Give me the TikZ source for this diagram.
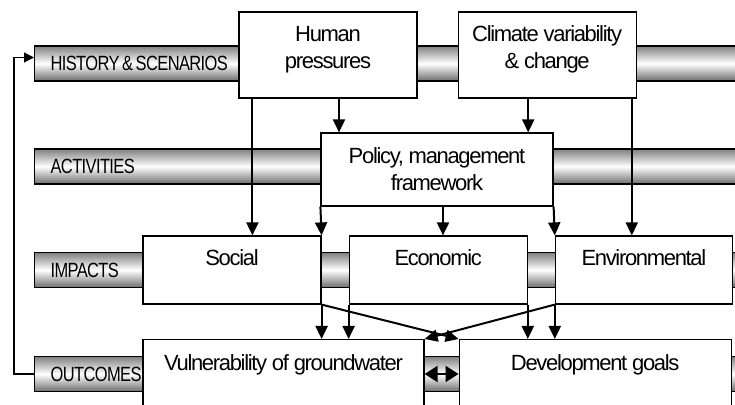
\documentclass[tikz,border=0pt]{standalone}
\usepackage{fontspec}
\setmainfont{Liberation Sans}
\newfontfamily\barfont[FakeStretch=0.8,LetterSpace=-3]{Liberation Sans}
\newfontfamily\boxfont[LetterSpace=-6]{Liberation Sans}
\DeclareRobustCommand\barlabelfont{\barfont\fontsize{10.3pt}{12pt}\selectfont\spaceskip=1.3pt\relax}
\usetikzlibrary{arrows.meta}
\usetikzlibrary{positioning}

\begin{document}
\begin{tikzpicture}[x=0.5pt,y=-0.5pt,
	bar/.style={draw,line width=0.6pt,top color=gray,bottom color=gray!85!black,middle color=white,
		minimum height=17.5pt,text width=340pt,inner xsep=8pt,inner ysep=0pt,align=flush left,anchor=west,
		font=\barlabelfont},
	box/.style={draw,line width=0.6pt,fill=white,align=center,inner sep=3pt,
		font=\boxfont\fontsize{11pt}{13.5pt}\selectfont},
	topbox/.style={box,minimum width=89pt,minimum height=43pt,text height=22pt,text depth=8pt},
	impbox/.style={box,minimum width=89pt,minimum height=34pt,text height=8pt,text depth=12pt},
	outbox/.style={box,anchor=north,inner ysep=4pt,text height=11.5pt,text depth=40pt},
	arr/.style={line width=1pt,-{Triangle[length=6.5pt,width=6pt]}},
	dblarr/.style={line width=1pt,{Triangle[length=6.5pt,width=8pt]}-{Triangle[length=6.5pt,width=8pt]}},
	fb/.style={line width=0.6pt,-{Triangle[length=5pt,width=5pt]}}]

	\clip (0,0) rectangle (735,405);

	% the four rows
	\node[bar] (hist) at (34,63.5) {HISTORY \& SCENARIOS};
	\node[bar] (act) at (34,166.5) {ACTIVITIES};
	\node[bar] (imp) at (34,270) {IMPACTS};
	\node[bar] (out) at (34,374) {OUTCOMES};

	% boxes
	\node[topbox] (human) at (328,55) {Human\\pressures};
	\node[topbox, right=20pt of human] (climate) {Climate variability\\\& change};
	\node[box,minimum width=116pt,minimum height=36.5pt] (policy) at (437,169.5) {Policy, management\\framework};
	\node[impbox] (social) at (232,270) {Social};
	\node[impbox, right=13.5pt of social] (economic) {Economic};
	\node[impbox, right=13.5pt of economic,minimum width=88.5pt] (environ) {Environmental};
	\node[outbox,minimum width=140.5pt] (vuln) at (283.5,339) {Vulnerability of groundwater};
	\node[outbox,minimum width=136pt, right=17pt of vuln] (devel) {Development goals};

	% arrows
	\draw[arr] ([xshift=7pt]human.south west) -- ([xshift=7pt]human.south west |- social.north);
	\draw[arr] ([xshift=5.5pt]human.south) -- ([xshift=5.5pt]human.south |- policy.north);
	\draw[arr] ([xshift=-9.5pt]climate.south) -- ([xshift=-9.5pt]climate.south |- policy.north);
	\draw[arr] ([xshift=-2.5pt]climate.south east) -- ([xshift=-2.5pt]climate.south east |- environ.north);
	\draw[arr] (policy.south west) -- (social.north east);
	\draw[arr] ([xshift=3pt]policy.south) -- ([xshift=3pt]policy.south |- economic.north);
	\draw[arr] (policy.south east) -- (environ.north west);
	\draw[arr] (social.south east) -- (social.south east |- vuln.north);
	\draw[arr] (economic.south west) -- (economic.south west |- vuln.north);
	\draw[arr] (economic.south east) -- (economic.south east |- devel.north);
	\draw[arr] (environ.south west) -- (environ.south west |- devel.north);
	\draw[arr] (social.south east) -- (devel.north west);
	\draw[arr] (environ.south west) -- (vuln.north east);
	\draw[dblarr] (vuln.north east |- out.center) -- (devel.north west |- out.center);
	\draw[fb] (out.west) -- ++(-10pt,0) |- ([yshift=3pt]hist.west);
\end{tikzpicture}
\end{document}
